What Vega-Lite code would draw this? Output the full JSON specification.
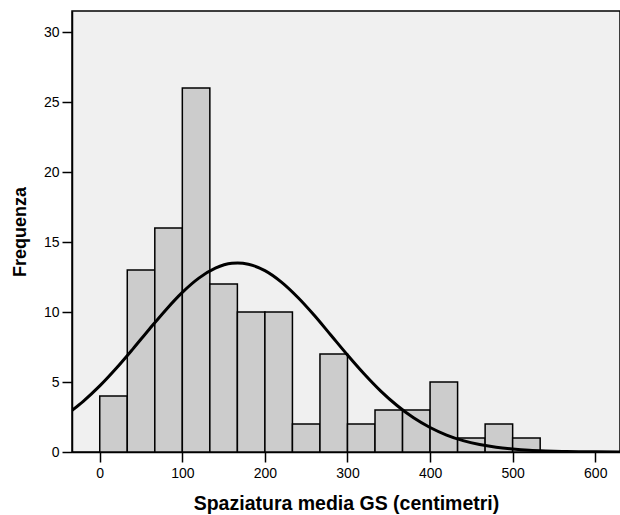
{
  "$schema": "https://vega.github.io/schema/vega-lite/v6.json",
  "width": 548,
  "height": 441,
  "autosize": {"type": "none"},
  "padding": {"left": 72, "top": 11, "right": 0, "bottom": 63},
  "config": {
    "view": {"fill": "#f0f0f0", "stroke": "black", "strokeWidth": 1.5},
    "axis": {
      "domainColor": "black", "domainWidth": 1.5,
      "tickColor": "black", "tickWidth": 1.5, "tickSize": 10,
      "labelFont": "Liberation Sans", "labelFontSize": 14, "labelColor": "black",
      "titleFont": "Liberation Sans", "titleFontWeight": "bold", "titleColor": "black",
      "grid": false
    }
  },
  "datasets": {
    "bars": [
      {"x0": 0, "x1": 33.33, "count": 4},
      {"x0": 33.33, "x1": 66.67, "count": 13},
      {"x0": 66.67, "x1": 100, "count": 16},
      {"x0": 100, "x1": 133.33, "count": 26},
      {"x0": 133.33, "x1": 166.67, "count": 12},
      {"x0": 166.67, "x1": 200, "count": 10},
      {"x0": 200, "x1": 233.33, "count": 10},
      {"x0": 233.33, "x1": 266.67, "count": 2},
      {"x0": 266.67, "x1": 300, "count": 7},
      {"x0": 300, "x1": 333.33, "count": 2},
      {"x0": 333.33, "x1": 366.67, "count": 3},
      {"x0": 366.67, "x1": 400, "count": 3},
      {"x0": 400, "x1": 433.33, "count": 5},
      {"x0": 433.33, "x1": 466.67, "count": 1},
      {"x0": 466.67, "x1": 500, "count": 2},
      {"x0": 500, "x1": 533.33, "count": 1}
    ],
    "curve": [
      {"x": -34, "y": 2.95}, {"x": -20, "y": 3.62}, {"x": 0, "y": 4.72}, {"x": 20, "y": 5.98},
      {"x": 40, "y": 7.35}, {"x": 60, "y": 8.77}, {"x": 80, "y": 10.15}, {"x": 100, "y": 11.40},
      {"x": 120, "y": 12.42}, {"x": 140, "y": 13.13}, {"x": 160, "y": 13.48}, {"x": 167, "y": 13.5},
      {"x": 180, "y": 13.41}, {"x": 200, "y": 12.96}, {"x": 220, "y": 12.14}, {"x": 240, "y": 11.04},
      {"x": 260, "y": 9.75}, {"x": 280, "y": 8.34}, {"x": 300, "y": 6.93}, {"x": 320, "y": 5.59},
      {"x": 340, "y": 4.37}, {"x": 360, "y": 3.32}, {"x": 380, "y": 2.44}, {"x": 400, "y": 1.75},
      {"x": 420, "y": 1.21}, {"x": 440, "y": 0.81}, {"x": 460, "y": 0.53}, {"x": 480, "y": 0.34},
      {"x": 500, "y": 0.21}, {"x": 520, "y": 0.12}, {"x": 540, "y": 0.07}, {"x": 560, "y": 0.04},
      {"x": 580, "y": 0.02}, {"x": 600, "y": 0.01}, {"x": 630, "y": 0.0}
    ]
  },
  "layer": [
    {
      "data": {"name": "bars"},
      "mark": {"type": "rect", "fill": "#cccccc", "stroke": "black", "strokeWidth": 1.5},
      "encoding": {
        "x": {"field": "x0", "type": "quantitative",
              "scale": {"domain": [-33.6, 630], "nice": false, "zero": false},
              "axis": {"values": [0, 100, 200, 300, 400, 500, 600], "title": "Spaziatura media GS (centimetri)", "titleFontSize": 19.5, "labelPadding": 4, "titlePadding": 14}},
        "x2": {"field": "x1"},
        "y": {"field": "count", "type": "quantitative",
              "scale": {"domain": [0, 31.5], "nice": false},
              "axis": {"values": [0, 5, 10, 15, 20, 25, 30], "title": "Frequenza", "titleFontSize": 18, "labelPadding": 3, "titlePadding": 14}},
        "y2": {"datum": 0}
      }
    },
    {
      "data": {"name": "curve"},
      "mark": {"type": "line", "color": "black", "strokeWidth": 3, "interpolate": "monotone", "clip": true},
      "encoding": {
        "x": {"field": "x", "type": "quantitative"},
        "y": {"field": "y", "type": "quantitative"}
      }
    }
  ]
}
